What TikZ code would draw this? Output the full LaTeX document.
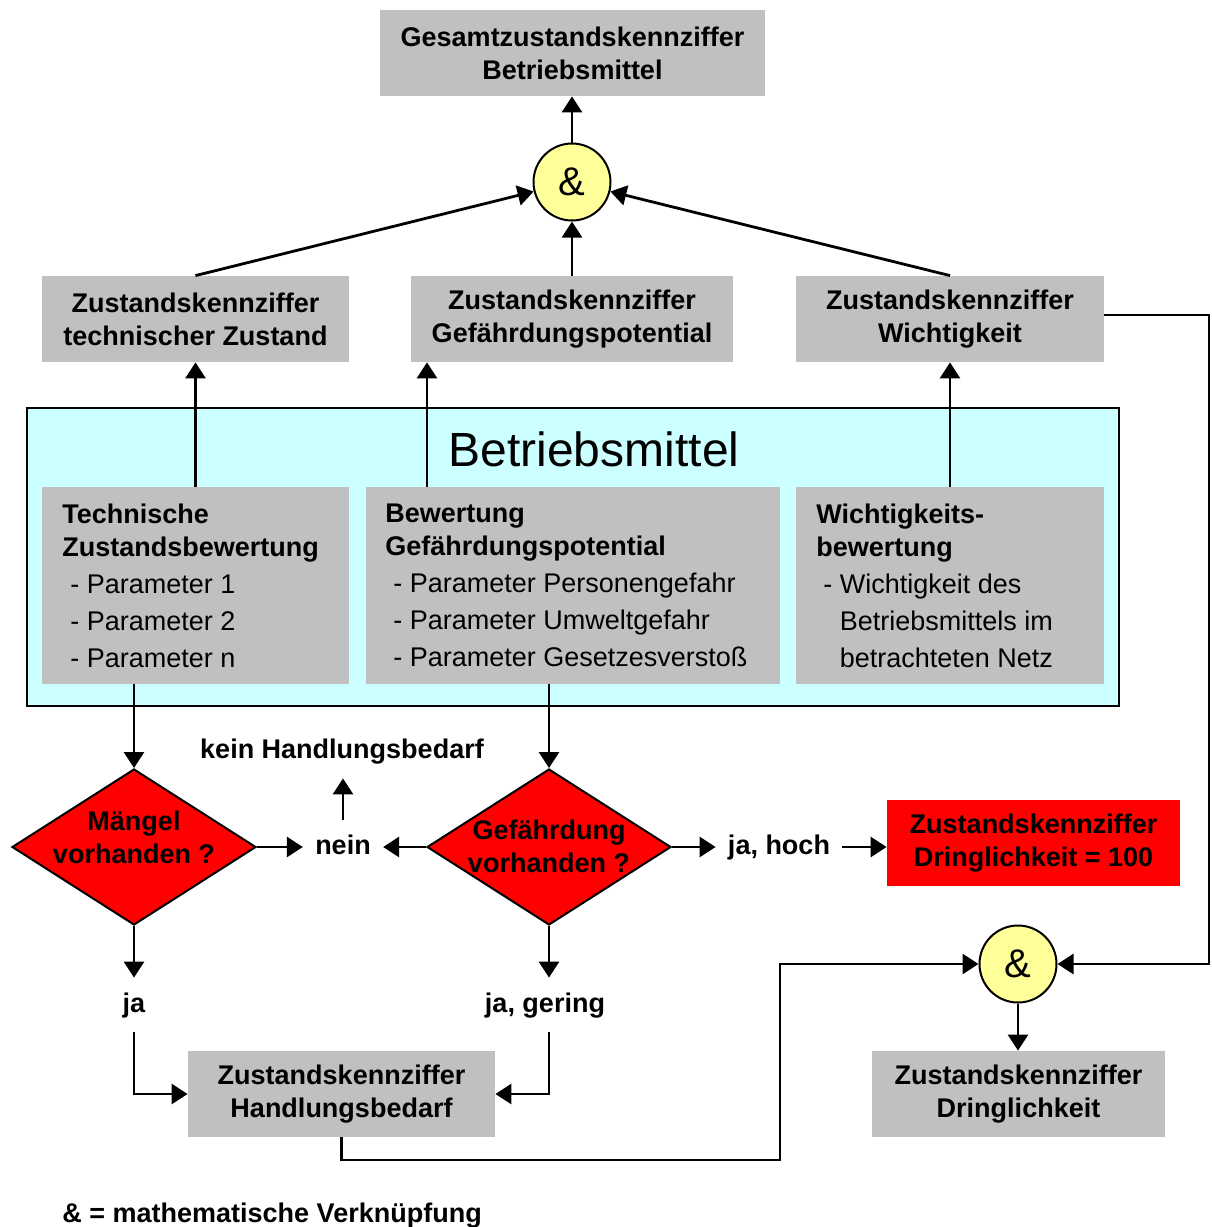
\documentclass[tikz,border=0pt]{standalone}
\usepackage{fontspec}
\setmainfont{Liberation Sans}
\usetikzlibrary{arrows.meta,shapes.geometric}
\definecolor{boxgray}{HTML}{C0C0C0}
\definecolor{paleCyan}{HTML}{CCFFFF}
\definecolor{ampYellow}{HTML}{FFFF99}
\definecolor{alarmRed}{HTML}{FF0000}
\begin{document}
\begin{tikzpicture}[x=0.5pt,y=-0.5pt,
  bold/.style={font=\bfseries\fontsize{13.5}{16.5}\selectfont},
  graybox/.style={fill=boxgray, inner sep=0pt, align=center, bold},
  panel/.style={fill=boxgray, inner sep=0pt, minimum height=98.5pt},
  paneltext/.style={anchor=north west, inner sep=0pt, align=left,
    font=\fontsize{13.5}{16.5}\selectfont},
  amp/.style={circle, draw, line width=1pt, fill=ampYellow, inner sep=0pt,
    minimum size=38.5pt, font=\fontsize{20}{20}\selectfont},
  decision/.style={diamond, draw, line width=1pt, fill=alarmRed, inner sep=0pt,
    minimum width=122pt, minimum height=78pt},
  answer/.style={bold, text height=10pt, text depth=3pt,
    inner xsep=6pt, inner ysep=7pt, anchor=base},
  arr/.style={line width=1.4pt, -{Triangle[length=8pt,width=10pt]}}
]
\useasboundingbox (0,0) rectangle (1211,1227);

% result at the top and the first combination
\node[graybox, minimum width=192.5pt, minimum height=43pt] (top) at (572.5,53)
  {Gesamtzustandskennziffer\\Betriebsmittel};
\node[amp] (amp1) at (572,182) {\&};

% the three partial indices
\node[graybox, minimum width=153.5pt, minimum height=43pt] (box1) at (195.5,319)
  {Zustandskennziffer\\technischer Zustand};
\node[graybox, minimum width=161pt, minimum height=43pt] (box2) at (572,319)
  {Zustandskennziffer\\Gefährdungspotential};
\node[graybox, minimum width=154pt, minimum height=43pt] (box3) at (950,319)
  {Zustandskennziffer\\Wichtigkeit};

% equipment block with its three assessments
\node[draw, line width=1pt, fill=paleCyan, inner sep=0pt,
  minimum width=546pt, minimum height=149pt] (equip) at (573,557) {};
\node[font=\fontsize{24}{28}\selectfont, inner sep=0pt] (equiptitle) at (594,449)
  {Betriebsmittel};

\node[panel, minimum width=153.5pt] (innera) at (195.5,585.5) {};
\node[panel, minimum width=207pt] (innerb) at (573,585.5) {};
\node[panel, minimum width=154pt] (innerc) at (950,585.5) {};

\node[paneltext] (texta) at (62,504)
  {\textbf{Technische}\\\textbf{Zustandsbewertung}\\[2pt]
   \hspace*{4pt}- Parameter 1\\[2pt]
   \hspace*{4pt}- Parameter 2\\[2pt]
   \hspace*{4pt}- Parameter n};
\node[paneltext] (textb) at (385,504)
  {\textbf{Bewertung}\\\textbf{Gefährdungspotential}\\[2pt]
   \hspace*{4pt}- Parameter Personengefahr\\[2pt]
   \hspace*{4pt}- Parameter Umweltgefahr\\[2pt]
   \hspace*{4pt}- Parameter Gesetzesverstoß};
\node[paneltext] (textc) at (816,504)
  {\textbf{Wichtigkeits-}\\\textbf{bewertung}\\[2pt]
   \hspace*{3.5pt}- Wichtigkeit des\\[2pt]
   \hspace*{3.5pt}\hphantom{- }Betriebsmittels im\\[2pt]
   \hspace*{3.5pt}\hphantom{- }betrachteten Netz};

% decisions
\node[decision] (dia1) at (134,847) {};
\node[bold, align=center, inner sep=0pt] (dia1txt) at (134,837)
  {Mängel\\vorhanden ?};
\node[decision] (dia2) at (549,847) {};
\node[bold, align=center, inner sep=0pt] (dia2txt) at (549,846)
  {Gefährdung\\vorhanden ?};

\node[answer] (nein) at (343,854) {nein};
\node[answer] (kein) at (342,758) {kein Handlungsbedarf};
\node[answer] (jahoch) at (779,854) {ja, hoch};
\node[answer] (ja) at (134,1012) {ja};
\node[answer] (jager) at (545,1012) {ja, gering};

\node[graybox, fill=alarmRed, minimum width=146.5pt, minimum height=43pt] (urgent)
  at (1033.5,843) {Zustandskennziffer\\Dringlichkeit = 100};
\node[graybox, minimum width=153.5pt, minimum height=43pt] (hb) at (341.5,1094)
  {Zustandskennziffer\\Handlungsbedarf};
\node[amp] (amp2) at (1018,964) {\&};
\node[graybox, minimum width=146.5pt, minimum height=43pt] (dring) at (1018.5,1094)
  {Zustandskennziffer\\Dringlichkeit};

\node[bold, anchor=base west, inner sep=0pt] (legend) at (62,1222)
  {\& = mathematische Verknüpfung};

% routing points
\coordinate (bx) at (427,0);
\coordinate (bturn) at (780,1160);
\coordinate (rturn) at (1209,0);

% connectors
\draw[arr] (amp1.north) -- (amp1.north |- top.south);
\draw[arr] (box1.north) -- (amp1);
\draw[arr] (box2.north) -- (amp1.south);
\draw[arr] (box3.north) -- (amp1);

\draw[arr] (innera.north) -- (box1.south);
\draw[arr] (innerb.north -| bx) -- (box2.south -| bx);
\draw[arr] (innerc.north) -- (box3.south);

\draw[arr] (dia1.north |- innera.south) -- (dia1.north);
\draw[arr] (dia2.north |- innerb.south) -- (dia2.north);

\draw[arr] (dia1.east) -- (dia1.east -| nein.west);
\draw[arr] (dia2.west) -- (dia2.west -| nein.east);
\draw[arr] (nein.north) -- (nein.north |- kein.south);
\draw[arr] (dia2.east) -- (dia2.east -| jahoch.west);
\draw[arr] (jahoch.east |- dia2.east) -- (dia2.east -| urgent.west);

\draw[arr] (dia1.south) -- (ja.north);
\draw[arr] (dia2.south) -- (dia2.south |- jager.north);
\draw[arr] (ja.south) |- (hb.west);
\draw[arr] (dia2.south |- jager.south) |- (hb.east);

\draw[arr] (hb.south) |- (bturn) |- (amp2.west);
\draw[arr] ([yshift=2pt]box3.east) -- ([yshift=2pt]box3.east -| rturn) |- (amp2.east);
\draw[arr] (amp2.south) -- (amp2.south |- dring.north);
\end{tikzpicture}
\end{document}
